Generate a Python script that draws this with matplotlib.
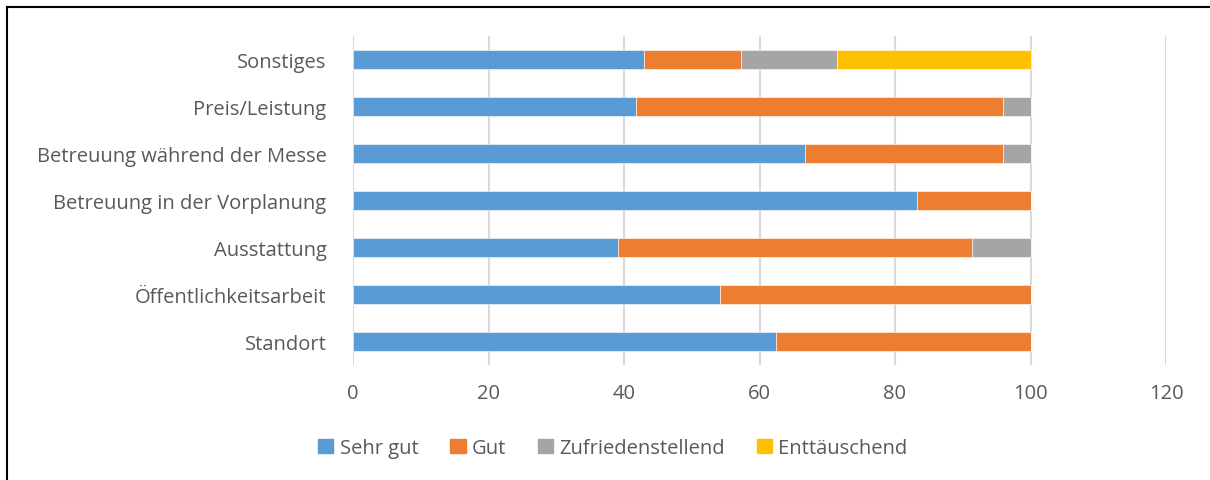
import matplotlib
matplotlib.use("Agg")
import matplotlib.pyplot as plt
from matplotlib.lines import Line2D
import numpy as np

categories = ["Standort", "Öffentlichkeitsarbeit", "Ausstattung",
              "Betreuung in der Vorplanung", "Betreuung während der Messe",
              "Preis/Leistung", "Sonstiges"]
series_names = ["Sehr gut", "Gut", "Zufriedenstellend", "Enttäuschend"]
sehr_gut = [62.5, 54.2, 39.1, 83.3, 66.7, 41.7, 42.9]
gut = [37.5, 45.8, 52.2, 16.7, 29.2, 54.2, 14.3]
zufrieden = [0, 0, 8.7, 0, 4.1, 4.1, 14.3]
enttaeuschend = [0, 0, 0, 0, 0, 0, 28.5]
xticks = [0, 20, 40, 60, 80, 100, 120]

colors = ["#5B9BD5", "#ED7D31", "#A5A5A5", "#FFC000"]
text_color = "#595959"
plt.rcParams['font.family'] = ['Open Sans', 'DejaVu Sans']

fig = plt.figure(figsize=(12.1, 4.81), dpi=100)
ax = fig.add_axes([353/1210, 1-366/481, (1166-353)/1210, (366-37)/481])

y = np.arange(len(categories))
left = np.zeros(len(categories))
for name, vals, c in zip(series_names, [sehr_gut, gut, zufrieden, enttaeuschend], colors):
    vals = np.array(vals, dtype=float)
    ax.barh(y, vals, left=left, height=0.4, color=c, label=name,
            edgecolor="white", linewidth=0.4, zorder=3)
    left += vals

ax.set_xlim(0, 120)
ax.set_ylim(-0.5, len(categories) - 0.5)
ax.set_xticks(xticks)
ax.set_xticklabels([str(t) for t in xticks])
ax.set_yticks(y)
ax.set_yticklabels(categories)
ax.tick_params(axis='both', length=0, labelsize=14.5, colors=text_color)
ax.tick_params(axis='y', pad=19)
ax.tick_params(axis='x', pad=13)
ax.grid(axis='x', color="#D9D9D9", linewidth=1.5, zorder=0)
for s in ax.spines.values():
    s.set_visible(False)

handles = [plt.Rectangle((0, 0), 1, 1, color=c) for c in colors]
fig.legend(handles, series_names, loc='center', bbox_to_anchor=(613/1210, 1-449/481),
           ncol=4, frameon=False, fontsize=14.5, labelcolor=text_color,
           handlelength=0.75, handleheight=0.75, handletextpad=0.3, columnspacing=1.6)

# partial border (top and left as in reference)
fig.add_artist(Line2D([6.5/1210, 6.5/1210], [0, 1-8/481], transform=fig.transFigure, color="black", linewidth=1.5))
fig.add_artist(Line2D([6.5/1210, 1], [1-8/481, 1-8/481], transform=fig.transFigure, color="black", linewidth=1.5))

fig.savefig("out.png", dpi=100, facecolor="white")
